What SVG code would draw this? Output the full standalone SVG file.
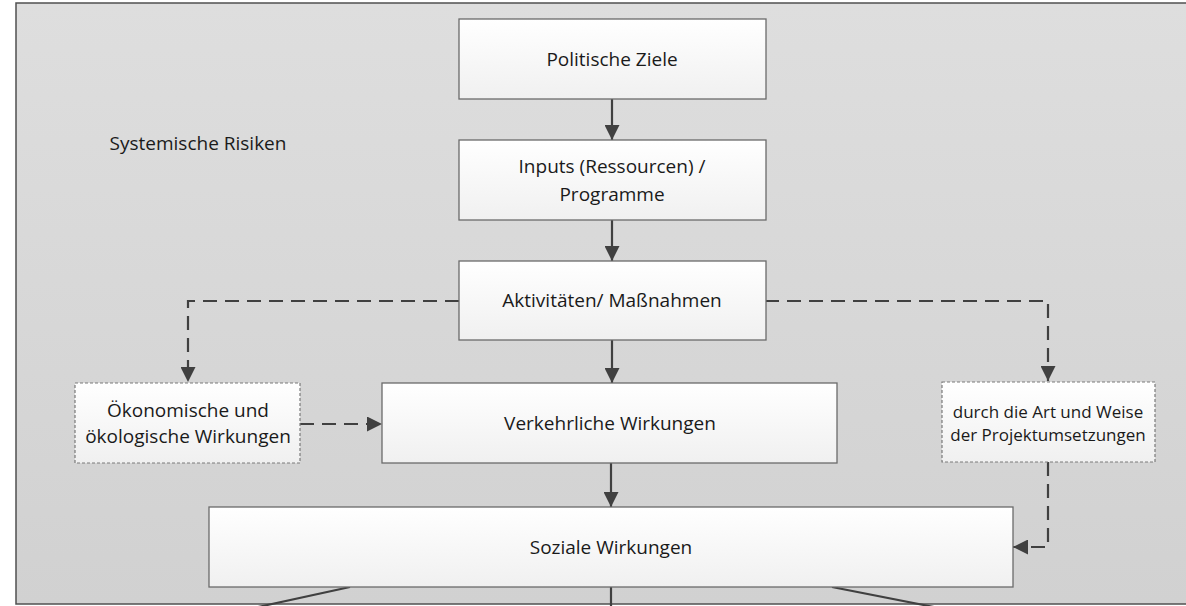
<svg xmlns="http://www.w3.org/2000/svg" width="1186" height="606" viewBox="0 0 1186 606">
  <style>
    .box { fill: url(#boxGrad); stroke: #6a6a6a; stroke-width: 1.3; }
    .dbox { fill: url(#boxGrad); stroke: #7a7a7a; stroke-width: 1.2; stroke-dasharray: 3 2; }
    .lbl { font-family: "Open Sans", "Noto Sans", sans-serif; font-size: 19px; fill: #1a1a1a; text-anchor: middle; dominant-baseline: central; }
    .sm { font-size: 17px; }
    .conn { stroke: #404040; stroke-width: 2.2; fill: none; }
    .dash { stroke-dasharray: 14 8; }
  </style>
  <defs>
    <linearGradient id="bgGrad" x1="0" y1="0" x2="0" y2="1">
      <stop offset="0" stop-color="#dedede"/>
      <stop offset="1" stop-color="#d1d1d1"/>
    </linearGradient>
    <linearGradient id="boxGrad" x1="0" y1="0" x2="0" y2="1">
      <stop offset="0" stop-color="#ffffff"/>
      <stop offset="1" stop-color="#f0f0f0"/>
    </linearGradient>
    <marker id="ah" viewBox="0 0 15 15" refX="15" refY="7.5" markerWidth="15" markerHeight="15" markerUnits="userSpaceOnUse" orient="auto">
      <path d="M0,0 L15,7.5 L0,15 z" fill="#404040"/>
    </marker>
  </defs>

  <rect x="0" y="0" width="1186" height="606" fill="#ffffff"/>
  <rect id="frame" x="16" y="3" width="1200" height="601" fill="url(#bgGrad)" stroke="#505050" stroke-width="1.5"/>
  <text class="lbl" x="198" y="143">Systemische Risiken</text>

  <g id="connectors">
    <line class="conn" x1="612" y1="99" x2="612" y2="140" marker-end="url(#ah)"/>
    <line class="conn" x1="612" y1="220" x2="612" y2="261" marker-end="url(#ah)"/>
    <line class="conn" x1="612" y1="340" x2="612" y2="383" marker-end="url(#ah)"/>
    <line class="conn" x1="611" y1="463" x2="611" y2="507" marker-end="url(#ah)"/>
    <polyline class="conn dash" points="459,301 188,301 188,382" marker-end="url(#ah)"/>
    <polyline class="conn dash" points="765,301 1048,301 1048,381" marker-end="url(#ah)"/>
    <line class="conn dash" x1="300" y1="424" x2="382" y2="424" marker-end="url(#ah)"/>
    <polyline class="conn dash" points="1048,462 1048,547 1013,547" marker-end="url(#ah)"/>
    <line class="conn" x1="350" y1="587" x2="258" y2="607"/>
    <line class="conn" x1="611" y1="587" x2="611" y2="607"/>
    <line class="conn" x1="832" y1="587" x2="934" y2="607"/>
  </g>

  <g id="n-politische">
    <rect class="box" x="459" y="19" width="307" height="80"/>
    <text class="lbl" x="612" y="59">Politische Ziele</text>
  </g>
  <g id="n-inputs">
    <rect class="box" x="459" y="140" width="307" height="80"/>
    <text class="lbl" x="612" y="166">Inputs (Ressourcen) /</text>
    <text class="lbl" x="612" y="194">Programme</text>
  </g>
  <g id="n-aktivitaeten">
    <rect class="box" x="459" y="261" width="307" height="79"/>
    <text class="lbl" x="612" y="300">Aktivitäten/ Maßnahmen</text>
  </g>
  <g id="n-oekonomisch">
    <rect class="dbox" x="75" y="383" width="225" height="80"/>
    <text class="lbl" x="188" y="410">Ökonomische und</text>
    <text class="lbl" x="188" y="436">ökologische Wirkungen</text>
  </g>
  <g id="n-verkehrlich">
    <rect class="box" x="382" y="383" width="455" height="80"/>
    <text class="lbl" x="610" y="423">Verkehrliche Wirkungen</text>
  </g>
  <g id="n-durch">
    <rect class="dbox" x="942" y="382" width="213" height="80"/>
    <text class="lbl sm" x="1048" y="411">durch die Art und Weise</text>
    <text class="lbl sm" x="1048" y="434">der Projektumsetzungen</text>
  </g>
  <g id="n-sozial">
    <rect class="box" x="209" y="507" width="804" height="80"/>
    <text class="lbl" x="611" y="547">Soziale Wirkungen</text>
  </g>
</svg>
